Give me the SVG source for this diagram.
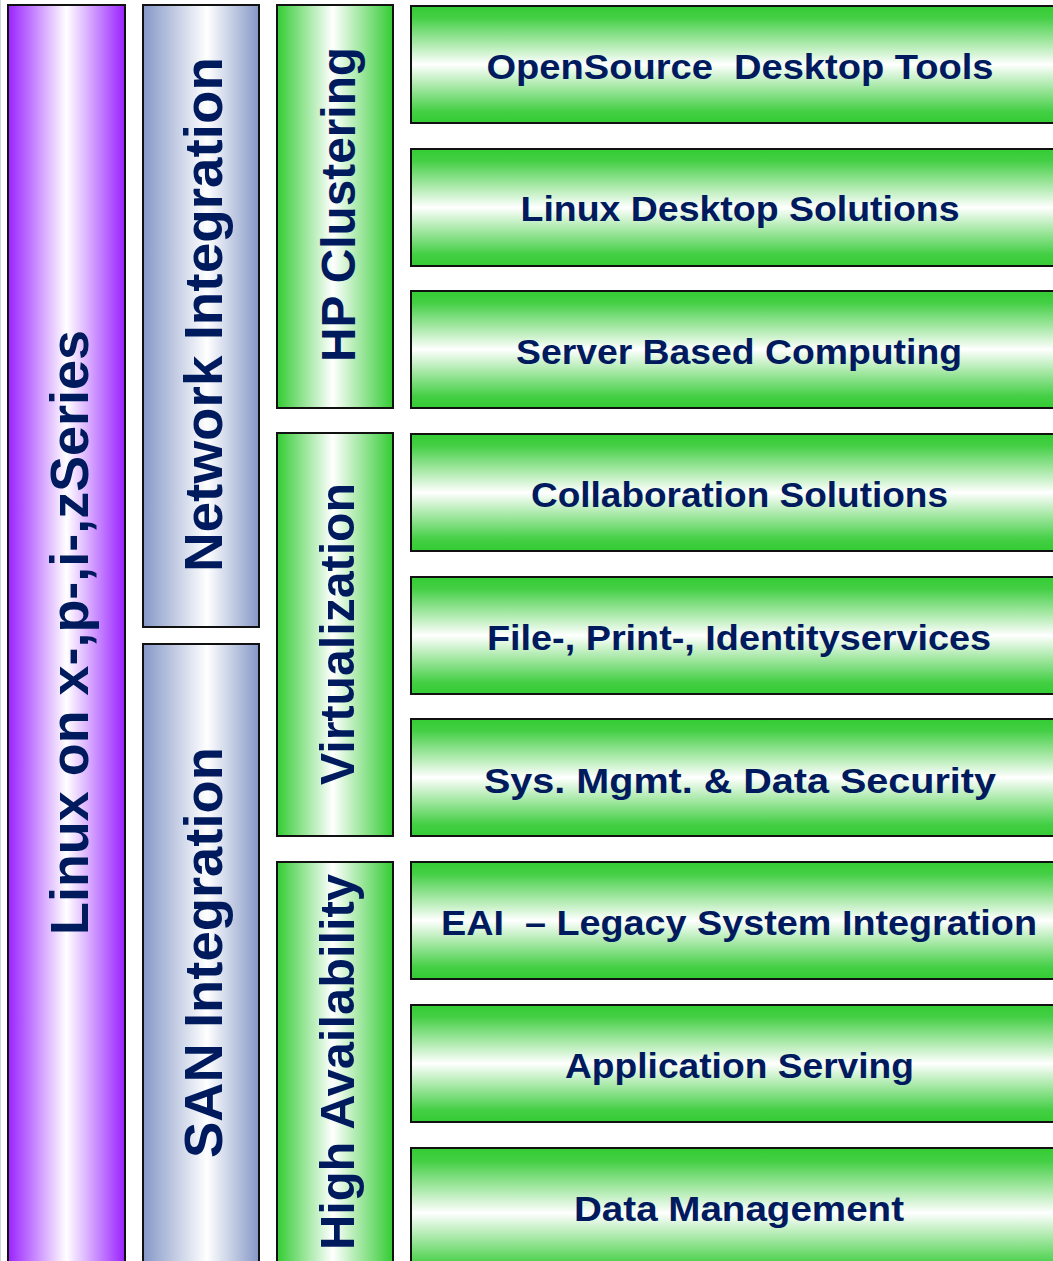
<svg xmlns="http://www.w3.org/2000/svg" width="1053" height="1261" viewBox="0 0 1053 1261">
<defs>
<linearGradient id="gPurple" x1="0" y1="0" x2="1" y2="0">
<stop offset="0" stop-color="#9922ff"/><stop offset="0.5" stop-color="#ffffff"/><stop offset="1" stop-color="#9922ff"/>
</linearGradient>
<linearGradient id="gBlue" x1="0" y1="0" x2="1" y2="0">
<stop offset="0" stop-color="#8497c6"/><stop offset="0.55" stop-color="#ffffff"/><stop offset="1" stop-color="#8497c6"/>
</linearGradient>
<linearGradient id="gGreenV" x1="0" y1="0" x2="1" y2="0">
<stop offset="0" stop-color="#33cc33"/><stop offset="0.48" stop-color="#ffffff"/><stop offset="1" stop-color="#33cc33"/>
</linearGradient>
<linearGradient id="gGreenH" x1="0" y1="0" x2="0" y2="1">
<stop offset="0" stop-color="#33cc33"/><stop offset="0.1" stop-color="#44cf44"/><stop offset="0.5" stop-color="#ffffff"/><stop offset="0.9" stop-color="#44cf44"/><stop offset="1" stop-color="#33cc33"/>
</linearGradient>
</defs>
<style>
rect{stroke:#111;stroke-width:2}
text{font-family:"Liberation Sans",Arial,sans-serif;font-weight:bold;fill:#001a5e;text-anchor:middle;white-space:pre}
.big{font-size:54px}
.mid{font-size:48px}
.row{font-size:35px}
</style>
<rect width="1053" height="1261" fill="#ffffff" style="stroke:none"/>
<line x1="0.5" y1="0" x2="0.5" y2="1261" stroke="#cfd9dd" stroke-width="1"/>

<g id="col-linux">
<rect x="8" y="5" width="117" height="1270" fill="url(#gPurple)"/>
<text class="big" transform="translate(88,632.5) rotate(-90)" textLength="605" lengthAdjust="spacingAndGlyphs">Linux on x-,p-,i-,zSeries</text>
</g>
<g id="col-network">
<rect x="143" y="5" width="116" height="622" fill="url(#gBlue)"/>
<text class="big" transform="translate(222,314.5) rotate(-90)" textLength="515" lengthAdjust="spacingAndGlyphs">Network Integration</text>
</g>
<g id="col-san">
<rect x="143" y="644" width="116" height="630" fill="url(#gBlue)"/>
<text class="big" transform="translate(222,952.5) rotate(-90)" textLength="411" lengthAdjust="spacingAndGlyphs">SAN Integration</text>
</g>
<g id="col-hp">
<rect x="277" y="5" width="116" height="403" fill="url(#gGreenV)"/>
<text class="mid" transform="translate(355,204.5) rotate(-90)" textLength="315" lengthAdjust="spacingAndGlyphs">HP Clustering</text>
</g>
<g id="col-virt">
<rect x="277" y="433" width="116" height="403" fill="url(#gGreenV)"/>
<text class="mid" transform="translate(354,634) rotate(-90)" textLength="302" lengthAdjust="spacingAndGlyphs">Virtualization</text>
</g>
<g id="col-ha">
<rect x="277" y="862" width="116" height="420" fill="url(#gGreenV)"/>
<text class="mid" transform="translate(354,1062) rotate(-90)" textLength="376" lengthAdjust="spacingAndGlyphs">High Availability</text>
</g>

<g id="row1"><rect x="411" y="6" width="660" height="117" fill="url(#gGreenH)"/><text class="row" x="740" y="79" textLength="507" lengthAdjust="spacingAndGlyphs">OpenSource  Desktop Tools</text></g>
<g id="row2"><rect x="411" y="149" width="660" height="117" fill="url(#gGreenH)"/><text class="row" x="740" y="221" textLength="439" lengthAdjust="spacingAndGlyphs">Linux Desktop Solutions</text></g>
<g id="row3"><rect x="411" y="291" width="660" height="117" fill="url(#gGreenH)"/><text class="row" x="739" y="364" textLength="446" lengthAdjust="spacingAndGlyphs">Server Based Computing</text></g>
<g id="row4"><rect x="411" y="434" width="660" height="117" fill="url(#gGreenH)"/><text class="row" x="739.5" y="507" textLength="417" lengthAdjust="spacingAndGlyphs">Collaboration Solutions</text></g>
<g id="row5"><rect x="411" y="577" width="660" height="117" fill="url(#gGreenH)"/><text class="row" x="739" y="650" textLength="504" lengthAdjust="spacingAndGlyphs">File-, Print-, Identityservices</text></g>
<g id="row6"><rect x="411" y="719" width="660" height="117" fill="url(#gGreenH)"/><text class="row" x="740" y="793" textLength="512" lengthAdjust="spacingAndGlyphs">Sys. Mgmt. &amp; Data Security</text></g>
<g id="row7"><rect x="411" y="862" width="660" height="117" fill="url(#gGreenH)"/><text class="row" x="739" y="935" textLength="596" lengthAdjust="spacingAndGlyphs">EAI  – Legacy System Integration</text></g>
<g id="row8"><rect x="411" y="1005" width="660" height="117" fill="url(#gGreenH)"/><text class="row" x="739.5" y="1078" textLength="349" lengthAdjust="spacingAndGlyphs">Application Serving</text></g>
<g id="row9"><rect x="411" y="1148" width="660" height="130" fill="url(#gGreenH)"/><text class="row" x="739" y="1221" textLength="330" lengthAdjust="spacingAndGlyphs">Data Management</text></g>
<g id="connectors"/>
</svg>
